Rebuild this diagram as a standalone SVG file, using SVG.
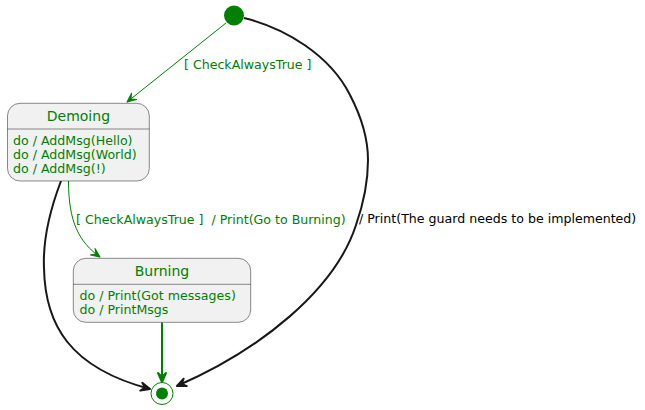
<svg xmlns="http://www.w3.org/2000/svg" width="645" height="410" viewBox="0 0 645 410">
<style>
  .box { fill: #F1F1F1; stroke: #181818; stroke-width: 0.5; }
  .sep { stroke: #181818; stroke-width: 0.5; }
  .title { font-family: "DejaVu Sans", "Liberation Sans", sans-serif; font-size: 14px; fill: #008000; text-anchor: middle; }
  .body { font-family: "DejaVu Sans", "Liberation Sans", sans-serif; font-size: 12.6px; fill: #008000; }
  .lbl { font-family: "DejaVu Sans", "Liberation Sans", sans-serif; font-size: 12.6px; white-space: pre; }
  .g1 { fill: none; stroke: #008000; stroke-width: 1; }
  .g2 { fill: none; stroke: #008000; stroke-width: 2; }
  .k2 { fill: none; stroke: #181818; stroke-width: 2; }
</style>
<defs>
  <marker id="ag1" viewBox="-12 -7 14 14" markerWidth="14" markerHeight="14" refX="0" refY="0" orient="auto" markerUnits="userSpaceOnUse">
    <path d="M0,0 L-9,-4 L-5,0 L-9,4 Z" fill="#008000" stroke="#008000" stroke-width="1" stroke-linejoin="round"/>
  </marker>
  <marker id="ag2" viewBox="-12 -7 14 14" markerWidth="14" markerHeight="14" refX="0" refY="0" orient="auto" markerUnits="userSpaceOnUse">
    <path d="M0,0 L-9,-4 L-5,0 L-9,4 Z" fill="#008000" stroke="#008000" stroke-width="2" stroke-linejoin="round"/>
  </marker>
  <marker id="ak2" viewBox="-12 -7 14 14" markerWidth="14" markerHeight="14" refX="0" refY="0" orient="auto" markerUnits="userSpaceOnUse">
    <path d="M0,0 L-9,-4 L-5,0 L-9,4 Z" fill="#181818" stroke="#181818" stroke-width="2" stroke-linejoin="round"/>
  </marker>
</defs>

<g id="connectors">
  <path class="g1" d="M226,23 L127,102" marker-end="url(#ag1)"/>
  <path class="g1" d="M68.5,181 C68.5,222 79,242 100,257" marker-end="url(#ag1)"/>
  <path class="k2" d="M61,181 C48,215 43,245 44,268 C45,325 70,368 150,389" marker-end="url(#ak2)"/>
  <path class="k2" d="M244,18 C285,28 330,55 350,95 C362,118 368,138 368,160 C368,185 363,205 356,225 C335,290 260,350 177,386" marker-end="url(#ak2)"/>
  <path class="g2" d="M162,322.5 L162,382" marker-end="url(#ag2)"/>
  <text class="lbl" x="184" y="69" fill="#008000">[ CheckAlwaysTrue ]</text>
  <text class="lbl" x="76" y="223.5" fill="#008000" xml:space="preserve">[ CheckAlwaysTrue ]  / Print(Go to Burning)</text>
  <text class="lbl" x="359" y="223" fill="#000000">/ Print(The guard needs to be implemented)</text>
</g>

<g id="initial">
  <circle cx="234" cy="15.5" r="10" fill="#008000"/>
</g>

<g id="Demoing">
  <rect class="box" x="7.5" y="103.3" width="141.8" height="77.7" rx="12.5" ry="12.5"/>
  <line class="sep" x1="7.5" y1="129" x2="149.3" y2="129"/>
  <text class="title" x="78.4" y="121">Demoing</text>
  <text class="body" x="13" y="145">do / AddMsg(Hello)</text>
  <text class="body" x="13" y="159">do / AddMsg(World)</text>
  <text class="body" x="13" y="173">do / AddMsg(!)</text>
</g>

<g id="Burning">
  <rect class="box" x="73.3" y="258.3" width="177.4" height="64" rx="12.5" ry="12.5"/>
  <line class="sep" x1="73.3" y1="284.3" x2="250.7" y2="284.3"/>
  <text class="title" x="162" y="276">Burning</text>
  <text class="body" x="79.5" y="300">do / Print(Got messages)</text>
  <text class="body" x="79.5" y="314">do / PrintMsgs</text>
</g>

<g id="final">
  <circle cx="162" cy="393.5" r="11" fill="none" stroke="#008000" stroke-width="1"/>
  <circle cx="162" cy="393.5" r="6" fill="#008000"/>
</g>
</svg>
